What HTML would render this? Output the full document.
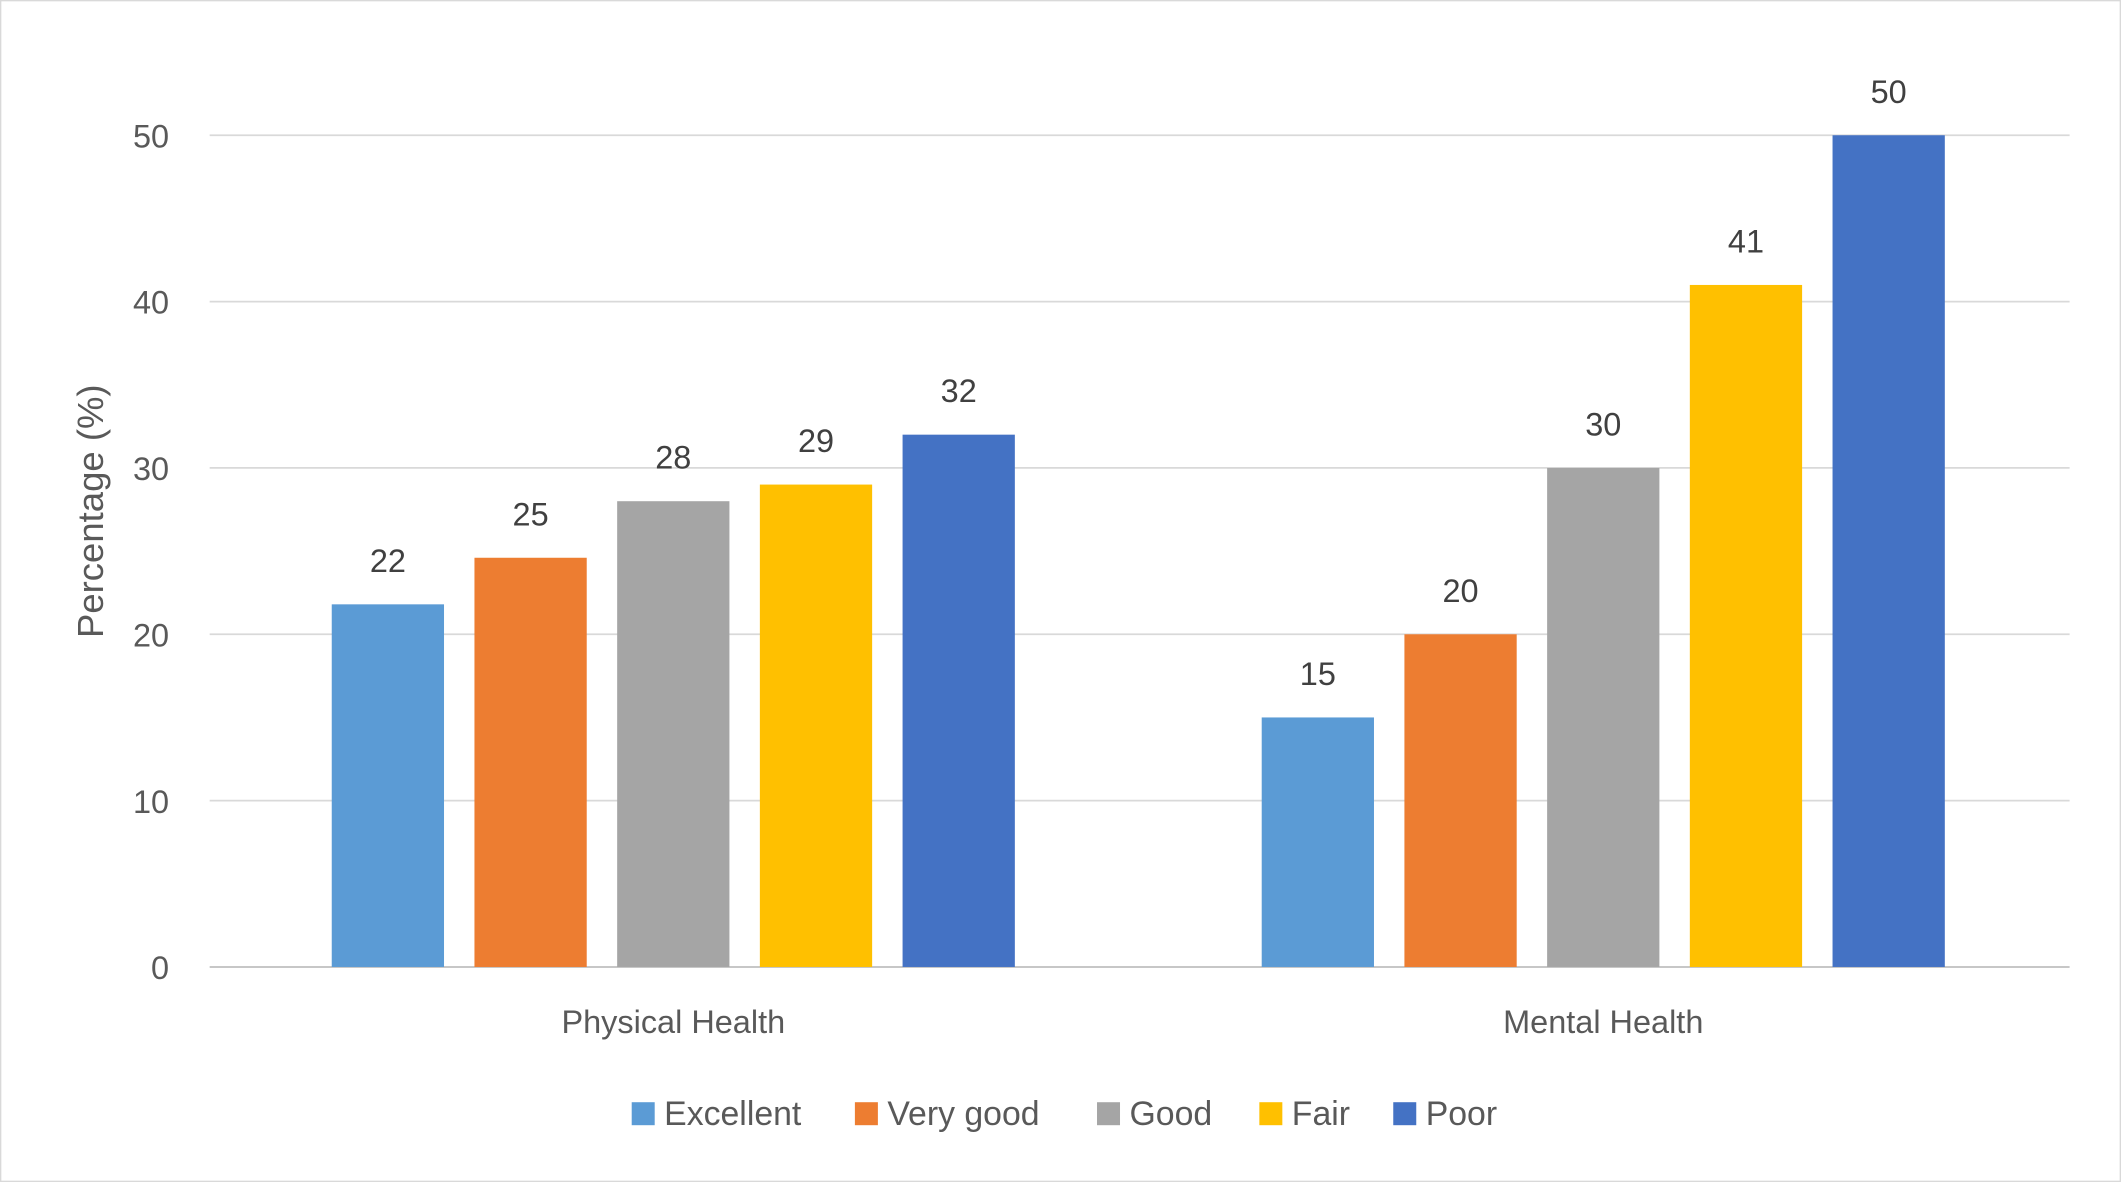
<!DOCTYPE html>
<html><head><meta charset="utf-8"><style>
html,body{margin:0;padding:0;background:#fff;}
svg{display:block;font-family:"Liberation Sans",sans-serif;}
</style></head><body>
<svg id="chart" width="2121" height="1182" viewBox="0 0 1568 874" preserveAspectRatio="none" xmlns="http://www.w3.org/2000/svg">
<rect x="0.5" y="0.5" width="1567" height="873" fill="#fff" stroke="#d9d9d9"/>
<g id="grid"></g><g id="bars"></g><g id="labels"></g><g id="legend"></g>
<text transform="translate(76,378) rotate(-90)" text-anchor="middle" font-size="27" fill="#595959">Percentage (%)</text>
</svg>
<script>
const categories = ["Physical Health", "Mental Health"];
const seriesNames = ["Excellent", "Very good", "Good", "Fair", "Poor"];
const physicalValues = [21.8, 24.6, 28, 29, 32];
const mentalValues = [15, 20, 30, 41, 50];
const physicalLabels = ["22", "25", "28", "29", "32"];
const mentalLabels = ["15", "20", "30", "41", "50"];
const yTicks = [0, 10, 20, 30, 40, 50];
const colors = ["#5b9bd5", "#ed7d31", "#a5a5a5", "#ffc000", "#4472c4"];

const NS = "http://www.w3.org/2000/svg";
const plotL = 155, plotR = 1530, y0 = 715, y50 = 100;
const yScale = v => y0 - (v / 50) * (y0 - y50);
const catW = (plotR - plotL) / categories.length;
const catCenter = i => plotL + catW * (i + 0.5) - 1;
const barW = 83, step = 105.5;
function mk(tag, attrs, parent, text) {
  const e = document.createElementNS(NS, tag);
  for (const k in attrs) e.setAttribute(k, attrs[k]);
  if (text !== undefined) e.textContent = text;
  parent.appendChild(e); return e;
}
const grid = document.getElementById('grid'), bars = document.getElementById('bars'),
      labels = document.getElementById('labels'), legend = document.getElementById('legend');
yTicks.forEach(t => {
  const y = yScale(t);
  const l = mk('line', {x1: plotL, x2: plotR, y1: y, y2: y, stroke: t === 0 ? '#bfbfbf' : '#d9d9d9', 'stroke-width': 1.3}, grid);
  
  
  const tx = mk('text', {x: 125, y: y + 9, 'text-anchor': 'end', 'font-size': 24, fill: '#595959'}, grid, String(t));
  
  
});
const allVals = [physicalValues, mentalValues], allLabels = [physicalLabels, mentalLabels];
categories.forEach((c, ci) => {
  const cx = catCenter(ci);
  allVals[ci].forEach((v, si) => {
    const x = cx + (si - 2) * step - barW / 2;
    const r = mk('rect', {x: x, y: yScale(v), width: barW, height: y0 - yScale(v), fill: colors[si]}, bars);
    
    
    const t = mk('text', {x: x + barW / 2, y: yScale(v) - 24, 'text-anchor': 'middle', 'font-size': 24, fill: '#404040'}, labels, allLabels[ci][si]);
    
    
  });
  const ct = mk('text', {x: cx, y: 764, 'text-anchor': 'middle', 'font-size': 24, fill: '#595959'}, labels, c);
  
  
});
const legendX = [467, 632, 811, 931, 1030];
seriesNames.forEach((n, i) => {
  const g = mk('g', {}, legend);
  
  
  mk('rect', {x: legendX[i], y: 815, width: 17, height: 17, fill: colors[i]}, g);
  mk('text', {x: legendX[i] + 24, y: 832, 'font-size': 25, fill: '#595959'}, g, n);
});
</script>
</body></html>
